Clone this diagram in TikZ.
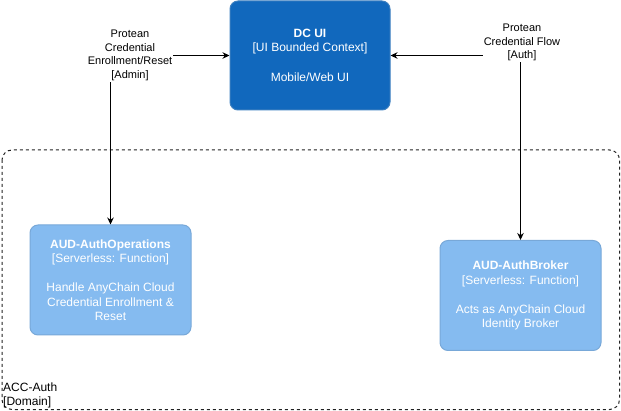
\documentclass[tikz,border=0pt]{standalone}
\usepackage{fontspec}
\setmainfont{Liberation Sans}
\usepackage{xcolor}
\definecolor{azulOscuro}{HTML}{1168BD}
\definecolor{bordeOscuro}{HTML}{3C7FC0}
\definecolor{azulClaro}{HTML}{85BBF0}
\definecolor{bordeClaro}{HTML}{78A8D8}
\definecolor{grisOscuro}{HTML}{222222}
\usepackage{tikz}
\usetikzlibrary{arrows,arrows.meta,shapes,calc,positioning}
\tikzstyle{edge}  =[>={Stealth[length=7pt,width=6.5pt]}, line width=1pt]
\tikzstyle{box}   =[rectangle, rounded corners=8pt, draw,
                    line width=1pt, text=white, align=center,
                    inner sep=0pt, font=\fontsize{12}{14.5}\selectfont]
\tikzstyle{container}=[box, fill=azulOscuro, draw=bordeOscuro,
                    minimum width=160pt, minimum height=109pt]
\tikzstyle{component}=[box, fill=azulClaro, draw=bordeClaro,
                    minimum width=161pt, minimum height=110pt]
\tikzstyle{elabel}=[fill=white, align=center, inner sep=1pt,
                    font=\fontsize{11}{13.7}\selectfont]
\tikzstyle{boundary}=[draw=grisOscuro, dash pattern=on 3pt off 3pt,
                    rounded corners=10pt, line width=1pt]

\begin{document}
\begin{tikzpicture}[x=1pt,y=-1pt]
    \useasboundingbox (0,0) rectangle (621,411);

            % domain boundary
            \draw[boundary] (2,150) rectangle (619.5,409.5);
            \draw (2,409.5) node(dominio)[anchor=south west, align=left,
                inner sep=1pt, font=\fontsize{12}{14}\selectfont]
                {ACC-Auth\\{[Domain]}};

            \draw (310,55.5) node(dcui)[container]
                {{\bfseries DC UI}\\{[UI Bounded Context]}\\[15.5pt]Mobile/Web UI};
            \draw (110.5,280) node(ops)[component]
                {{\bfseries AUD-AuthOperations}\\{[Serverless: Function]}\\[14.5pt]Handle AnyChain Cloud\\Credential Enrollment \&\\Reset};
            \draw (520.5,295.5) node(broker)[component]
                {{\bfseries AUD-AuthBroker}\\{[Serverless: Function]}\\[14.5pt]Acts as AnyChain Cloud\\Identity Broker};

            \foreach \i/\j in {ops/west,broker/east}
                \draw [edge,<->] (\i.north) |- (dcui.\j);

            \draw (130,55.5) node(admin)[elabel]
                {Protean\\Credential\\Enrollment/Reset\\{[Admin]}};
            \draw (522,42.5) node(auth)[elabel]
                {Protean\\Credential Flow\\{[Auth]}};

    \end{tikzpicture}
\end{document}
